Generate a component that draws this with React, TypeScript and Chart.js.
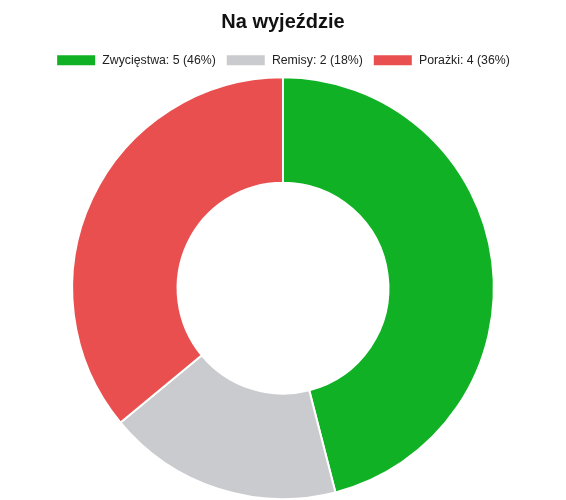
import React, { useEffect, useRef } from "react";
import { Chart, registerables } from "chart.js";

Chart.register(...registerables);

const categories = ["Zwycięstwa", "Remisy", "Porażki"];
const counts = [5, 2, 4];
const percents = [46, 18, 36];
const colors = ["#10B124", "#CACBCE", "#E94F4F"];
const titleText = "Na wyjeździe";

export default function App() {
  const ref = useRef<HTMLCanvasElement | null>(null);
  useEffect(() => {
    if (!ref.current) return;
    const labels = categories.map((c, i) => `${c}: ${counts[i]} (${percents[i]}%)`);
    const chart = new Chart(ref.current, {
      type: "doughnut",
      data: {
        labels,
        datasets: [
          {
            data: percents,
            backgroundColor: colors,
            borderColor: "#ffffff",
            borderWidth: 2,
          },
        ],
      },
      options: {
        animation: false,
        responsive: true,
        maintainAspectRatio: false,
        cutout: "50%",
        plugins: {
          title: {
            display: true,
            text: titleText,
            color: "#111",
            padding: 10,
            font: { family: "'Liberation Sans', Arial, sans-serif", size: 20, weight: "bold" },
          },
          legend: {
            position: "top",
            labels: {
              color: "#222",
              boxWidth: 40,
              boxHeight: 12,
              font: { family: "'Liberation Sans', Arial, sans-serif", size: 12.3 },
            },
          },
          tooltip: { enabled: false },
        },
      },
    });
    return () => chart.destroy();
  }, []);
  return (
    <div style={{ width: 566, height: 500, position: "fixed", left: 0, top: 0 }}>
      <canvas ref={ref} />
    </div>
  );
}
